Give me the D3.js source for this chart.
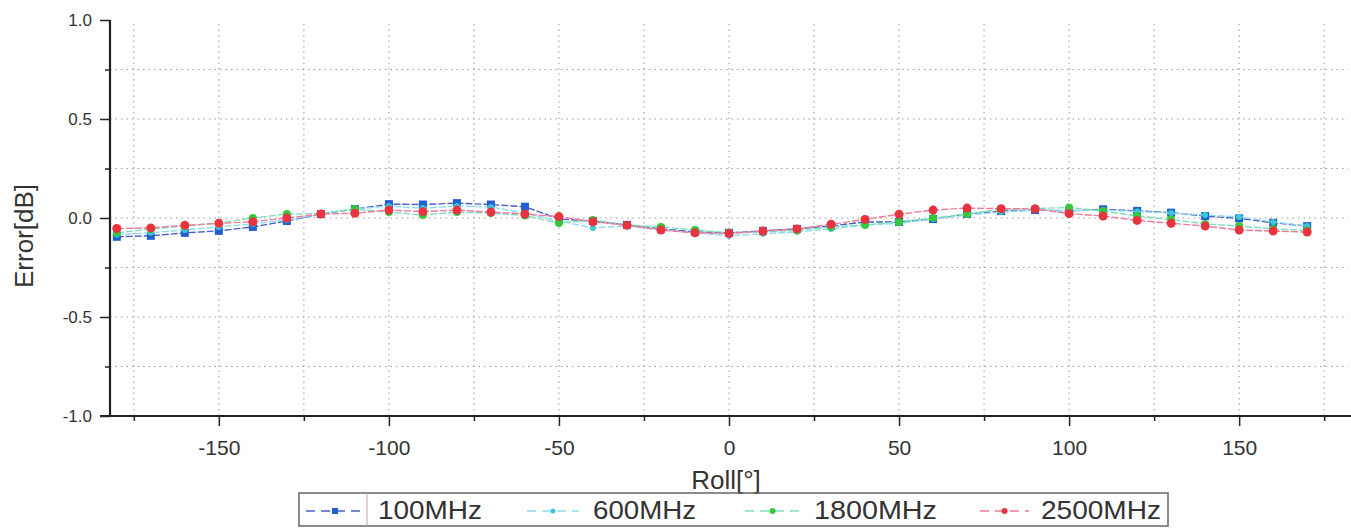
<!DOCTYPE html>
<html><head><meta charset="utf-8">
<script src="https://cdn.jsdelivr.net/npm/d3@7/dist/d3.min.js"></script>
<style>body{margin:0;background:#fff}svg{display:block}text{font-family:"Liberation Sans",Arial,sans-serif;fill:#333}</style>
</head><body><svg id="c" width="1351" height="528"></svg>
<script>
const rollAngles = [-180,-170,-160,-150,-140,-130,-120,-110,-100,-90,-80,-70,-60,-50,-40,-30,-20,-10,0,10,20,30,40,50,60,70,80,90,100,110,120,130,140,150,160,170];
const err100MHz = [-0.095,-0.09,-0.075,-0.065,-0.045,-0.015,0.02,0.045,0.07,0.068,0.075,0.068,0.057,-0.005,-0.015,-0.035,-0.055,-0.07,-0.075,-0.065,-0.055,-0.04,-0.02,-0.02,-0.005,0.02,0.035,0.04,0.036,0.044,0.036,0.027,0.01,-0.002,-0.024,-0.041];
const err600MHz = [-0.085,-0.075,-0.06,-0.045,-0.03,-0.01,0.02,0.045,0.06,0.05,0.06,0.055,0.025,-0.015,-0.05,-0.04,-0.06,-0.075,-0.09,-0.08,-0.07,-0.055,-0.035,-0.027,-0.005,0.015,0.03,0.04,0.036,0.04,0.033,0.025,0.015,0.005,-0.02,-0.04];
const err1800MHz = [-0.075,-0.056,-0.04,-0.025,0.0,0.02,0.022,0.045,0.03,0.015,0.03,0.025,0.012,-0.025,-0.01,-0.035,-0.045,-0.06,-0.075,-0.07,-0.062,-0.045,-0.035,-0.02,0.0,0.02,0.045,0.048,0.053,0.035,0.01,-0.008,-0.03,-0.04,-0.055,-0.063];
const err2500MHz = [-0.053,-0.05,-0.037,-0.027,-0.019,0.0,0.02,0.024,0.04,0.032,0.04,0.03,0.02,0.007,-0.019,-0.037,-0.061,-0.075,-0.078,-0.066,-0.055,-0.032,-0.007,0.019,0.04,0.05,0.047,0.046,0.022,0.01,-0.012,-0.027,-0.041,-0.061,-0.066,-0.071];
const seriesNames = ["100MHz","600MHz","1800MHz","2500MHz"];
const xTickValues = [-150,-100,-50,0,50,100,150];
const yTickValues = [-1.0,-0.5,0.0,0.5,1.0];
const xAxisTitle = "Roll[°]";
const yAxisTitle = "Error[dB]";

const seriesValues = [err100MHz, err600MHz, err1800MHz, err2500MHz];
const styles = [
  {marker:"#1f5fcf", line:"#4a5fc4", shape:"square", size:8, lsize:6},
  {marker:"#3cc6d6", line:"#8fdcef", shape:"circle", size:6, lsize:5},
  {marker:"#35c83a", line:"#7fe0b5", shape:"circle", size:8, lsize:6},
  {marker:"#e8343f", line:"#f07a9a", shape:"circle", size:9, lsize:6}
];

const svg = d3.select("#c");
const x = d3.scaleLinear().domain([-182,182]).range([110,1348]);
const y = d3.scaleLinear().domain([-1,1]).range([416,20]);
const hyph = f => d => f(d).replace("\u2212","-");

// grid
const grid = svg.append("g");
grid.selectAll("line.v").data(d3.range(-175,176,25)).join("line")
  .attr("x1",d=>x(d)).attr("x2",d=>x(d)).attr("y1",y(1)+4).attr("y2",y(-1))
  .attr("stroke","#9a9a9a").attr("stroke-width",1).attr("stroke-dasharray","1.5,4");
grid.selectAll("line.h").data(d3.range(-0.75,0.76,0.25)).join("line")
  .attr("x1",x(-182)).attr("x2",x(182)).attr("y1",d=>y(d)).attr("y2",d=>y(d))
  .attr("stroke","#9a9a9a").attr("stroke-width",1).attr("stroke-dasharray","1.5,4");

// axes
const xAxis = d3.axisBottom(x).tickValues(xTickValues).tickSize(10).tickPadding(14).tickFormat(hyph(d3.format("d")));
const gx = svg.append("g").attr("transform",`translate(0,${y(-1)})`).call(xAxis);
gx.select(".domain").attr("stroke","#222").attr("stroke-width",2.2).attr("d",`M100,0H1351`);
gx.selectAll(".tick line").attr("stroke","#222").attr("stroke-width",1.5);
gx.selectAll(".tick text").style("font-size","21px").attr("fill","#333");
const xMinor = d3.axisBottom(x).tickValues([-175,-125,-75,-25,25,75,125,175]).tickSize(5).tickFormat("");
const gxm = svg.append("g").attr("transform",`translate(0,${y(-1)})`).call(xMinor);
gxm.select(".domain").remove();
gxm.selectAll(".tick line").attr("stroke","#222").attr("stroke-width",1.5);

const yAxis = d3.axisLeft(y).tickValues(yTickValues).tickSize(10).tickPadding(8).tickFormat(hyph(d3.format(".1f")));
const gy = svg.append("g").attr("transform",`translate(${x(-182)},0)`).call(yAxis);
gy.select(".domain").attr("stroke","#222").attr("stroke-width",2.2).attr("d",`M0,${y(1)}V${y(-1)}`);
gy.selectAll(".tick line").attr("stroke","#222").attr("stroke-width",1.5);
gy.selectAll(".tick text").style("font-size","17px").attr("fill","#555");
const yMinor = d3.axisLeft(y).tickValues([-0.75,-0.25,0.25,0.75]).tickSize(5).tickFormat("");
const gym = svg.append("g").attr("transform",`translate(${x(-182)},0)`).call(yMinor);
gym.select(".domain").remove();
gym.selectAll(".tick line").attr("stroke","#222").attr("stroke-width",1.5);

// titles
svg.append("text").attr("x",726).attr("y",489).attr("text-anchor","middle").style("font-size","26px").text(xAxisTitle);
svg.append("text").attr("transform","translate(33,236) rotate(-90)").attr("text-anchor","middle").style("font-size","26px").text(yAxisTitle);

// series
const line = d3.line().x(d=>x(d[0])).y(d=>y(d[1]));
function drawMarker(g, st, cx, cy, sz){
  if(st.shape==="square"){
    g.append("rect").attr("x",cx-sz/2).attr("y",cy-sz/2).attr("width",sz).attr("height",sz).attr("fill",st.marker);
  } else {
    g.append("circle").attr("cx",cx).attr("cy",cy).attr("r",sz/2).attr("fill",st.marker);
  }
}
seriesValues.forEach((vals,i)=>{
  const st = styles[i];
  const pts = rollAngles.map((a,j)=>[a,vals[j]]);
  const g = svg.append("g");
  g.append("path").attr("d",line(pts)).attr("fill","none").attr("stroke",st.line).attr("stroke-width",1.4).attr("stroke-dasharray","7,2");
  pts.forEach(p=>drawMarker(g, st, x(p[0]), y(p[1]), st.size));
});

// legend
const lg = svg.append("g");
lg.append("rect").attr("x",299).attr("y",493).attr("width",869).attr("height",33).attr("fill","none").attr("stroke","#666").attr("stroke-width",1.5);
lg.append("line").attr("x1",367).attr("x2",367).attr("y1",493).attr("y2",526).attr("stroke","#c9a0b0").attr("stroke-width",1);
const legendLayout = [
  {l1:306,l2:364,tx:378,tw:104},
  {l1:527,l2:579,tx:593,tw:103},
  {l1:745,l2:800,tx:814,tw:123},
  {l1:980,l2:1029,tx:1041,tw:120}
];
seriesNames.forEach((name,i)=>{
  const st = styles[i], L = legendLayout[i];
  lg.append("line").attr("x1",L.l1).attr("x2",L.l2).attr("y1",511).attr("y2",511).attr("stroke",st.line).attr("stroke-width",1.4).attr("stroke-dasharray","9,6");
  drawMarker(lg, st, (L.l1+L.l2)/2, 511, st.lsize);
  lg.append("text").attr("x",L.tx).attr("y",519).style("font-size","25px").attr("textLength",L.tw).attr("lengthAdjust","spacingAndGlyphs").attr("fill","#333").text(name);
});
</script></body></html>
